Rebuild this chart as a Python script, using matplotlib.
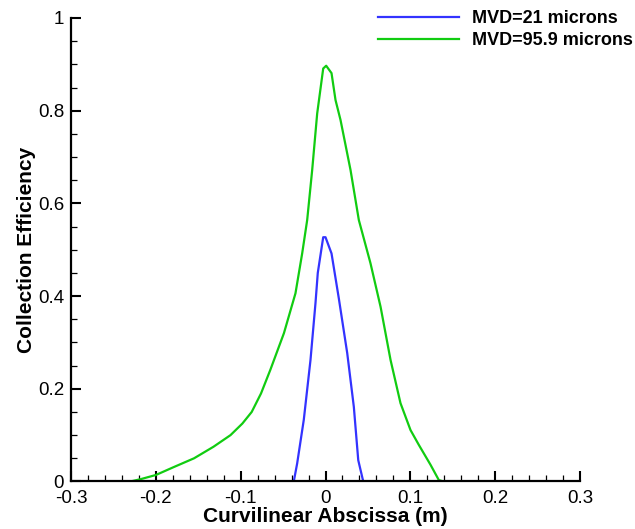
import matplotlib
matplotlib.use("Agg")
import matplotlib.pyplot as plt
from matplotlib.ticker import MultipleLocator, FuncFormatter

# MVD = 21 microns
x_21 = [-0.0374, -0.0334, -0.0256, -0.0177, -0.0118, -0.0091, -0.0027, 0.0,
        0.0071, 0.0157, 0.0256, 0.0334, 0.0386, 0.0445]
ce_21 = [0.0, 0.039, 0.133, 0.262, 0.385, 0.45, 0.527, 0.527,
         0.492, 0.395, 0.277, 0.161, 0.046, 0.0]

# MVD = 95.9 microns
x_959 = [-0.230, -0.218, -0.200, -0.179, -0.155, -0.132, -0.112, -0.098, -0.087,
         -0.076, -0.065, -0.049, -0.0354, -0.0275, -0.0216, -0.0157, -0.0098,
         -0.0027, 0.0008, 0.0071, 0.0118, 0.0177, 0.0295, 0.0393, 0.053, 0.0649,
         0.0767, 0.0884, 0.1002, 0.110, 0.1238, 0.1336, 0.139]
ce_959 = [0.0, 0.005, 0.014, 0.031, 0.050, 0.075, 0.100, 0.125, 0.150,
          0.190, 0.241, 0.320, 0.406, 0.492, 0.564, 0.672, 0.794,
          0.891, 0.897, 0.881, 0.823, 0.780, 0.672, 0.564, 0.471, 0.377,
          0.262, 0.169, 0.111, 0.079, 0.036, 0.003, 0.0]

plt.rcParams["font.family"] = ["Liberation Sans", "DejaVu Sans"]

fig = plt.figure(figsize=(6.35, 5.29), dpi=100)
ax = fig.add_axes([0.1118, 0.0898, 0.8016, 0.8762])

ax.plot(x_21, ce_21, color="#3333ff", lw=1.6, label="MVD=21 microns")
ax.plot(x_959, ce_959, color="#11cc11", lw=1.6, label="MVD=95.9 microns")

ax.set_xlim(-0.3, 0.3)
ax.set_ylim(0, 1)
ax.spines["top"].set_visible(False)
ax.spines["right"].set_visible(False)
for s in ("left", "bottom"):
    ax.spines[s].set_linewidth(1.6)

ax.xaxis.set_major_locator(MultipleLocator(0.1))
ax.xaxis.set_minor_locator(MultipleLocator(0.02))
ax.yaxis.set_major_locator(MultipleLocator(0.2))
ax.yaxis.set_minor_locator(MultipleLocator(0.05))
fmt = FuncFormatter(lambda v, p: f"{v:g}" if abs(v) > 1e-9 else "0")
ax.xaxis.set_major_formatter(fmt)
ax.yaxis.set_major_formatter(fmt)
ax.tick_params(which="major", direction="in", length=7, width=1.5,
               labelsize=13.5, pad=5)
ax.tick_params(axis="x", which="major", pad=6)
ax.tick_params(which="minor", direction="in", length=4, width=0.9)

ax.set_xlabel("Curvilinear Abscissa (m)", fontsize=15, fontweight="bold",
              labelpad=0)
ax.set_ylabel("Collection Efficiency", fontsize=15, fontweight="bold",
              labelpad=1)

fig.legend(loc="upper right", bbox_to_anchor=(1.023, 1.011), frameon=False,
           prop={"weight": "bold", "size": 13}, handlelength=4.5,
           handletextpad=0.75, labelspacing=0.25)

fig.savefig("out.png", dpi=100)
